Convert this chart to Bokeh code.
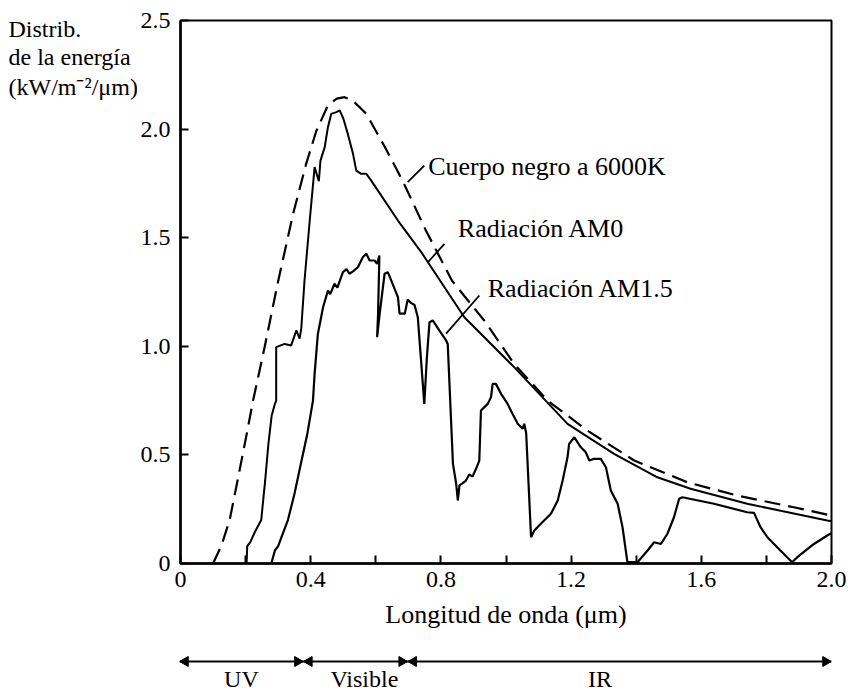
import math
from bokeh.plotting import figure
from bokeh.layouts import column, row
from bokeh.models import FixedTicker, Range1d
from bokeh.core.properties import value
from bokeh.embed import file_html
from bokeh.resources import INLINE

# ---------------- data ----------------
wl_bb = [0.10, 0.125, 0.151, 0.175, 0.20, 0.223, 0.259, 0.30, 0.346, 0.386, 0.417,
         0.453, 0.48, 0.504, 0.53, 0.571, 0.627, 0.683, 0.755, 0.835, 0.933, 1.025,
         1.128, 1.25, 1.394, 1.557, 1.71, 1.884, 2.0]
e_bb = [0.0, 0.08, 0.2, 0.38, 0.57, 0.75, 1.0, 1.30, 1.61, 1.84, 1.99,
        2.11, 2.14, 2.147, 2.13, 2.07, 1.92, 1.76, 1.53, 1.30, 1.119, 0.919,
        0.75, 0.612, 0.474, 0.374, 0.313, 0.259, 0.221]

wl_am0 = [0.203, 0.205, 0.215, 0.23, 0.248, 0.26, 0.27, 0.28, 0.289, 0.294, 0.294,
          0.32, 0.34, 0.356, 0.366, 0.371, 0.381, 0.397, 0.412, 0.425, 0.43, 0.443,
          0.453, 0.463, 0.479, 0.489, 0.50, 0.514, 0.53, 0.54, 0.555, 0.571, 0.586,
          0.668, 0.739, 0.872, 1.025, 1.189, 1.332, 1.465, 1.567, 1.741, 1.987, 2.0]
e_am0 = [0.0, 0.08, 0.10, 0.15, 0.2, 0.38, 0.55, 0.68, 0.73, 0.75, 0.996,
         1.011, 1.004, 1.073, 1.035, 1.081, 1.303, 1.579, 1.825, 1.76, 1.855, 1.917,
         2.009, 2.07, 2.078, 2.086, 2.05, 1.978, 1.886, 1.809, 1.794, 1.794, 1.763,
         1.579, 1.435, 1.134, 0.904, 0.643, 0.505, 0.397, 0.344, 0.275, 0.198, 0.195]

wl_am15 = [0.279, 0.29, 0.30, 0.31, 0.33, 0.35, 0.37, 0.39, 0.407, 0.412, 0.422, 0.438,
           0.453, 0.46, 0.473, 0.482, 0.499, 0.51, 0.519, 0.53, 0.545, 0.56, 0.571,
           0.581, 0.596, 0.604, 0.611, 0.607, 0.604, 0.612, 0.627, 0.637, 0.647, 0.668,
           0.673, 0.689, 0.698, 0.708, 0.719, 0.729, 0.739, 0.749, 0.757, 0.765, 0.775,
           0.795, 0.816, 0.821, 0.837, 0.847, 0.852, 0.857, 0.867, 0.877, 0.887, 0.897,
           0.908, 0.918, 0.923, 0.944, 0.954, 0.959, 0.969, 0.985, 1.005, 1.02, 1.036,
           1.051, 1.056, 1.062, 1.077, 1.087, 1.107, 1.138, 1.159, 1.174, 1.189, 1.194,
           1.21, 1.23, 1.245, 1.256, 1.271, 1.291, 1.307, 1.322, 1.343, 1.358, 1.373,
           1.404, 1.435, 1.455, 1.476, 1.496, 1.516, 1.532, 1.542, 1.639, 1.741, 1.762,
           1.782, 1.803, 1.843, 1.879, 1.895, 1.946, 1.987, 2.0]
e_am15 = [0.0, 0.06, 0.08, 0.12, 0.2, 0.32, 0.46, 0.6, 0.75, 0.873, 1.057, 1.18,
          1.257, 1.24, 1.288, 1.27, 1.341, 1.355, 1.334, 1.345, 1.364, 1.41, 1.426,
          1.395, 1.395, 1.38, 1.418, 1.15, 1.042, 1.15, 1.334, 1.341, 1.305, 1.226,
          1.15, 1.15, 1.215, 1.2, 1.19, 1.134, 0.935, 0.735, 0.95, 1.111, 1.119,
          1.073, 1.027, 1.011, 0.459, 0.367, 0.29, 0.36, 0.37, 0.382, 0.41, 0.40,
          0.436, 0.474, 0.704, 0.735, 0.766, 0.827, 0.827, 0.781, 0.735, 0.689, 0.643,
          0.62, 0.643, 0.6, 0.121, 0.152, 0.183, 0.229, 0.29, 0.382, 0.489, 0.551,
          0.581, 0.535, 0.512, 0.474, 0.482, 0.482, 0.443, 0.336, 0.275, 0.167, 0.006,
          0.006, 0.06, 0.098, 0.09, 0.137, 0.213, 0.298, 0.305, 0.275, 0.236, 0.233,
          0.167, 0.121, 0.06, 0.006, 0.029, 0.09, 0.129, 0.14]

curve_labels = ["Cuerpo negro a 6000K", "Radiación AM0", "Radiación AM1.5"]
label_x = [0.761, 0.852, 0.944]
label_y = [1.83, 1.542, 1.266]
leader_x0 = [0.698, 0.760, 0.816]
leader_y0 = [1.756, 1.387, 1.058]
leader_x1 = [0.749, 0.811, 0.918]
leader_y1 = [1.832, 1.472, 1.234]

x_ticks = [0, 0.4, 0.8, 1.2, 1.6, 2.0]
x_tick_labels = ["0", "0.4", "0.8", "1.2", "1.6", "2.0"]
x_minor = [0.2, 0.6, 1.0, 1.4, 1.8]
y_ticks = [0, 0.5, 1.0, 1.5, 2.0, 2.5]
y_tick_labels = ["0", "0.5", "1.0", "1.5", "2.0", "2.5"]

band_bounds = [0.0, 0.38, 0.70, 2.0]
band_names = ["UV", "Visible", "IR"]
band_label_x = [0.19, 0.567, 1.29]

ylabel_lines = ["Distrib.", "de la energía", "(kW/m\u207b\u00b2/μm)"]

# ---------------- layout constants ----------------
FONT = "Liberation Serif"
W_TITLE = 137
TOP, BOTTOM = 20, 77
MAIN_H = 640
BAND_H = 55

# ---------------- main chart ----------------
p = figure(width=848 - W_TITLE, height=MAIN_H, x_range=Range1d(0, 2.0),
           y_range=Range1d(0, 2.5), output_backend="svg", toolbar_location=None,
           min_border_left=179 - W_TITLE, min_border_right=17,
           min_border_top=TOP, min_border_bottom=BOTTOM)
p.grid.visible = False
p.outline_line_color = "black"
p.outline_line_width = 2
p.outline_line_alpha = 1.0

p.line(wl_bb, e_bb, line_color="black", line_width=2.2, line_dash="16 8")
p.line(wl_am0, e_am0, line_color="black", line_width=2)
p.line(wl_am15, e_am15, line_color="black", line_width=2.2)
p.segment(x0=leader_x0, y0=leader_y0, x1=leader_x1, y1=leader_y1,
          line_color="black", line_width=1.8)
p.text(x=label_x, y=label_y, text=curve_labels, text_font=value(FONT),
       text_font_size=value("26px"), text_baseline="middle", text_align="left",
       text_color="black")

xa = p.xaxis[0]
xa.ticker = FixedTicker(ticks=x_ticks, minor_ticks=x_minor)
xa.major_label_overrides = {t: s for t, s in zip(x_ticks, x_tick_labels)}
ya = p.yaxis[0]
ya.ticker = FixedTicker(ticks=y_ticks, minor_ticks=[])
ya.major_label_overrides = {t: s for t, s in zip(y_ticks, y_tick_labels)}
for ax in (xa, ya):
    ax.axis_line_width = 2.5
    ax.axis_line_color = "black"
    ax.major_tick_in = 8
    ax.major_tick_out = 0
    ax.minor_tick_in = 8
    ax.minor_tick_out = 0
    ax.major_tick_line_width = 2
    ax.minor_tick_line_width = 2
    ax.major_tick_line_color = "black"
    ax.minor_tick_line_color = "black"
    ax.major_label_text_font = FONT
    ax.major_label_text_font_size = "24px"
    ax.major_label_text_color = "black"
xa.major_label_standoff = 8
ya.major_label_standoff = 10
xa.axis_label = "Longitud de onda (μm)"
xa.axis_label_text_font = FONT
xa.axis_label_text_font_size = "26px"
xa.axis_label_text_font_style = "normal"
xa.axis_label_text_color = "black"
xa.axis_label_standoff = 10

# ---------------- y-axis title (left strip; its frame is aligned with the main frame) ----------------
pt = figure(width=W_TITLE, height=MAIN_H, x_range=Range1d(0, W_TITLE),
            y_range=p.y_range, output_backend="svg", toolbar_location=None,
            min_border_left=0, min_border_right=0,
            min_border_top=TOP, min_border_bottom=BOTTOM)
pt.axis.visible = False
pt.grid.visible = False
pt.outline_line_color = None
title_pos_y = [2.463, 2.330, 2.196]
pt.text(x=[8] * len(ylabel_lines), y=title_pos_y, text=ylabel_lines,
        text_font=value(FONT), text_font_size=value("24px"),
        text_baseline="middle", text_align="left", text_color="black")

# ---------------- spectral band bar ----------------
pb = figure(width=848, height=BAND_H, x_range=p.x_range, y_range=Range1d(0, 1),
            output_backend="svg", toolbar_location=None,
            min_border_left=179, min_border_right=17, min_border_top=0, min_border_bottom=0)
pb.axis.visible = False
pb.grid.visible = False
pb.outline_line_color = None
bar_y = 1 - 21 / BAND_H
lab_y = 1 - 38 / BAND_H
pb.segment(x0=[band_bounds[0]], y0=[bar_y], x1=[band_bounds[-1]], y1=[bar_y],
           line_color="black", line_width=2.2)
head = 0.018
left_x = [a + head for a in band_bounds[:-1]]
right_x = [b - head for b in band_bounds[1:]]
pb.scatter(x=left_x, y=[bar_y] * len(left_x), marker="triangle", size=10,
           angle=math.pi / 2, fill_color="black", line_color="black")
pb.scatter(x=right_x, y=[bar_y] * len(right_x), marker="triangle", size=10,
           angle=-math.pi / 2, fill_color="black", line_color="black")
pb.text(x=band_label_x, y=[lab_y] * len(band_names), text=band_names,
        text_font=value(FONT), text_font_size=value("24px"),
        text_baseline="middle", text_align="center", text_color="black")

layout = column(row(pt, p), pb)
open("out.html", "w").write(file_html(layout, INLINE))
